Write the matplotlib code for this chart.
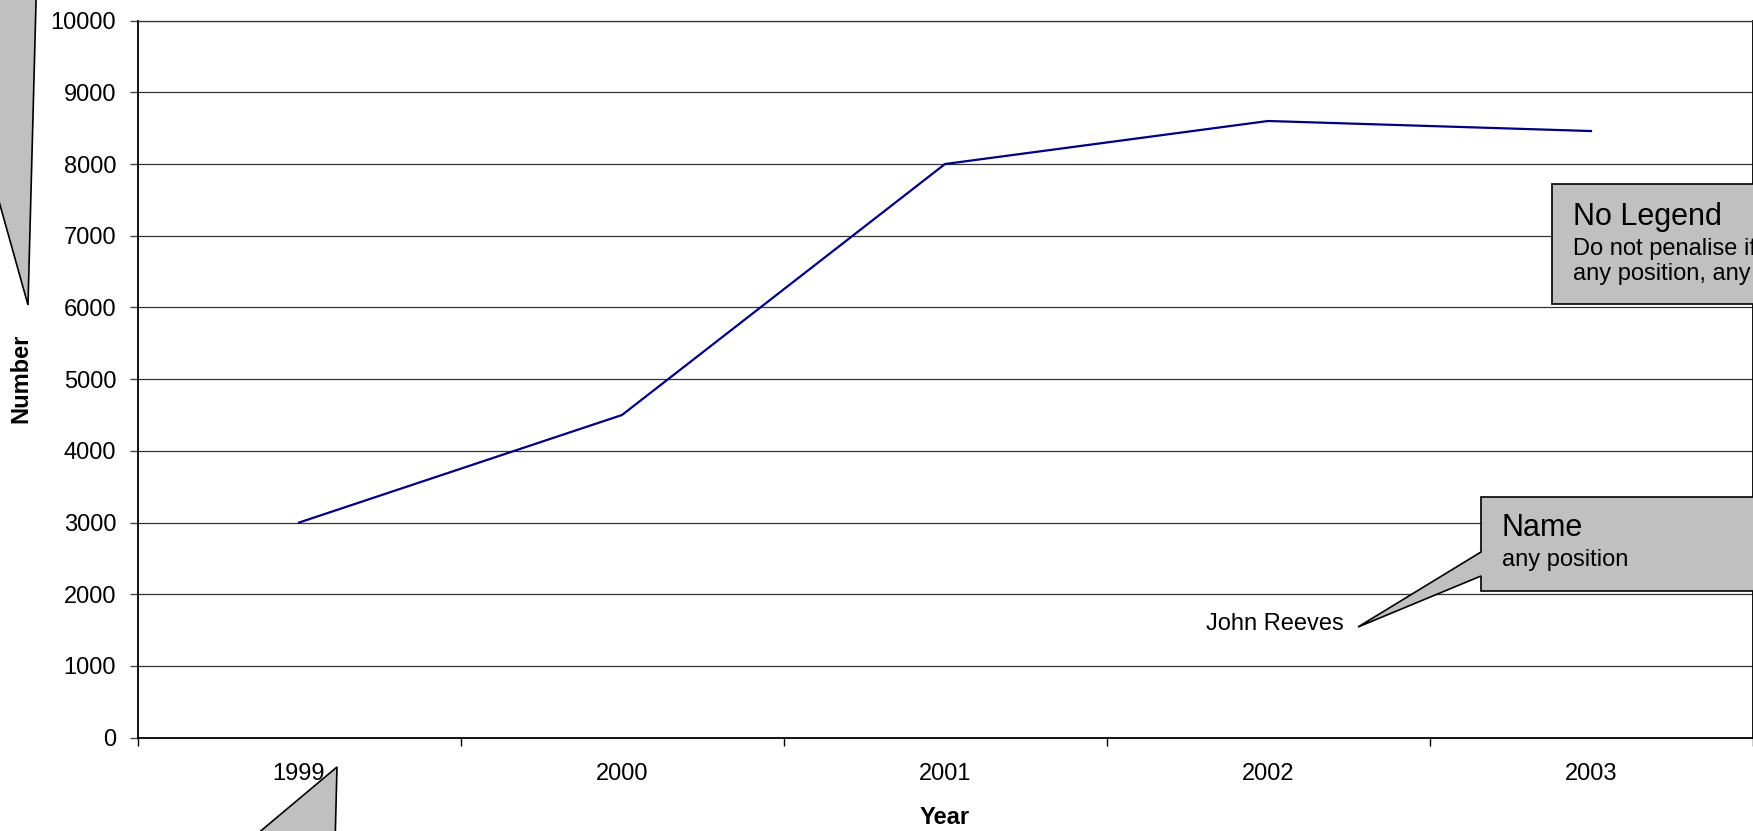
import matplotlib.pyplot as plt
from matplotlib.patches import Polygon

# values
years = ['1999', '2000', '2001', '2002', '2003']
numbers = [3000, 4500, 8000, 8600, 8460]
y_ticks = [0, 1000, 2000, 3000, 4000, 5000, 6000, 7000, 8000, 9000, 10000]

W, H = 1753, 831
plt.rcParams['font.family'] = ['Liberation Sans', 'DejaVu Sans']

fig = plt.figure(figsize=(W / 100, H / 100), dpi=100)
ax = fig.add_axes([137.5 / W, (H - 737.7) / H, 1615 / W, (737.7 - 20.6) / H])


def px(x, y):
    """pixel position (from top left) -> figure fraction"""
    return x / W, 1 - y / H


x = list(range(len(years)))
ax.plot(x, numbers, color='#000080', lw=1.6, solid_joinstyle='miter')

ax.set_xlim(-0.5, len(years) - 0.5)
ax.set_ylim(0, 10000)
ax.set_yticks(y_ticks)
ax.set_yticklabels([str(v) for v in y_ticks], fontsize=17)
ax.set_xticks(x)
ax.set_xticklabels(years, fontsize=17)
ax.set_xticks([i - 0.5 for i in range(len(years) + 1)], minor=True)

ax.tick_params(axis='x', which='major', length=0, pad=18.4)
ax.tick_params(axis='x', which='minor', length=5.8, width=1, direction='out', color='black')
ax.tick_params(axis='y', length=5.8, width=1, direction='out', pad=9.6, color='#444444')

ax.grid(axis='y', color='#333333', lw=0.9)
ax.set_axisbelow(True)
for side in ['left', 'bottom', 'right']:
    ax.spines[side].set_color('black')
    ax.spines[side].set_linewidth(1.3)
ax.spines['top'].set_color('#333333')
ax.spines['top'].set_linewidth(0.9)

fig.text(*px(21, 378), 'Number', rotation=90, ha='center', va='center',
         fontsize=17, fontweight='bold')
fig.text(*px(945, 824), 'Year', ha='center', va='baseline',
         fontsize=17, fontweight='bold')

# callouts
gray = '#C0C0C0'
shapes = [
    [(-5, -5), (36.2, -5), (28, 305), (-5, 187)],
    [(337, 767), (335, 845), (244, 845)],
    [(1552, 184), (1800, 184), (1800, 304), (1552, 304)],
    [(1481, 497), (1800, 497), (1800, 591), (1481, 591), (1481, 576),
     (1358, 627), (1481, 552)],
]
for pts in shapes:
    poly = Polygon([px(a, b) for a, b in pts], closed=True, facecolor=gray,
                   edgecolor='black', lw=1.2, transform=fig.transFigure,
                   clip_on=False, zorder=5)
    fig.add_artist(poly)

fig.text(*px(1206, 630), 'John Reeves', fontsize=17, ha='left', va='baseline')
fig.text(*px(1573, 225), 'No Legend', fontsize=22, ha='left', va='baseline', zorder=6)
fig.text(*px(1573, 255), 'Do not penalise if absent', fontsize=17, ha='left',
         va='baseline', zorder=6)
fig.text(*px(1573, 280), 'any position, any style', fontsize=17, ha='left',
         va='baseline', zorder=6)
fig.text(*px(1502, 536), 'Name', fontsize=22, ha='left', va='baseline', zorder=6)
fig.text(*px(1502, 566), 'any position', fontsize=17, ha='left', va='baseline', zorder=6)

fig.savefig('out.png', dpi=100)
